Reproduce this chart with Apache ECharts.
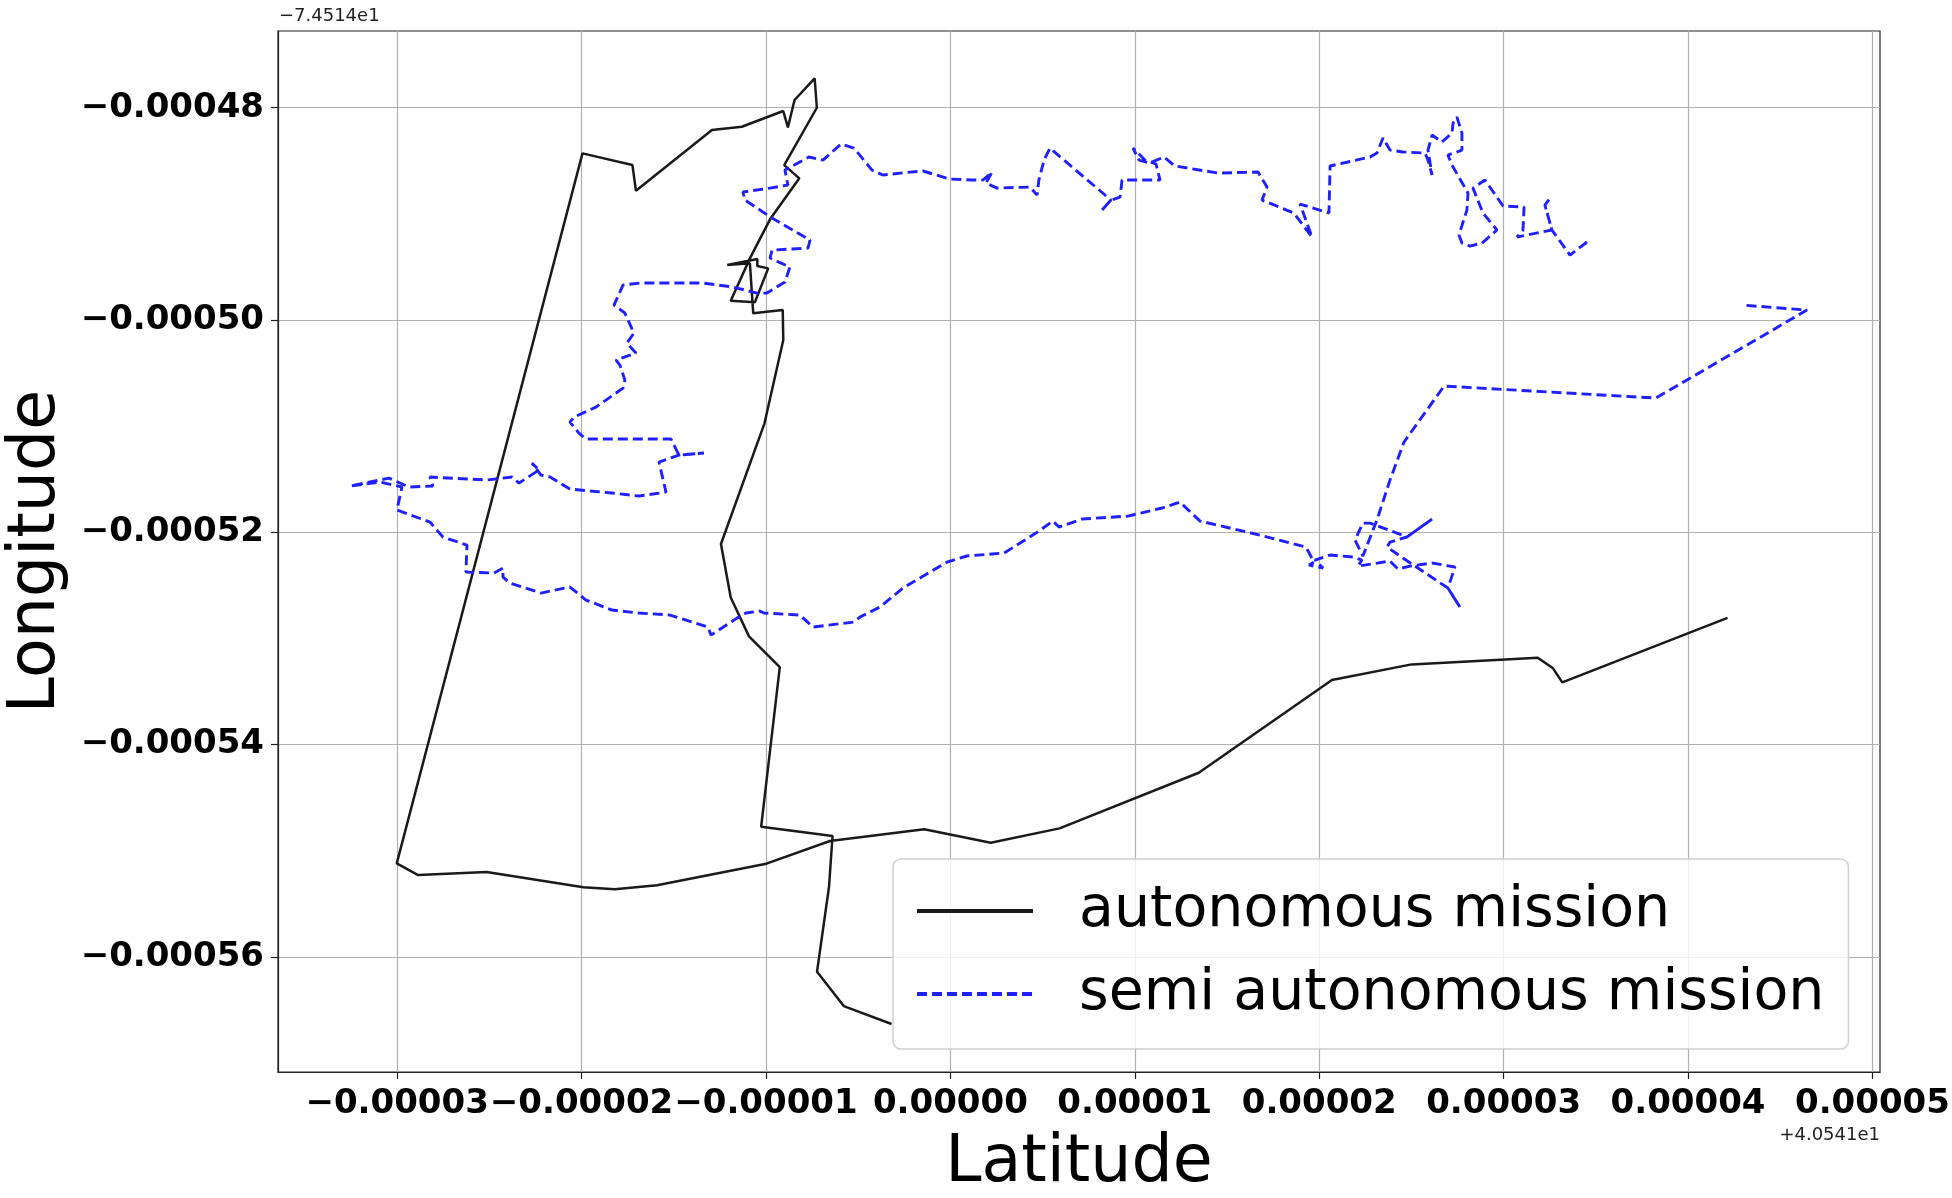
<!DOCTYPE html>
<html>
<head>
<meta charset="utf-8">
<script src="https://cdn.jsdelivr.net/npm/echarts@6/dist/echarts.min.js"></script>
<style>
html,body{margin:0;padding:0;background:#fff;}
#chart{width:1952px;height:1198px;}
</style>
</head>
<body>
<div id="chart"></div>
<script>
// Values are offsets in units of 1e-5 degree (latitude offset from 40.541, longitude offset from -74.514)
const autoLat = [4.214,3.318,3.268,3.185,2.501,2.069,1.347,0.592,0.219,-0.142,-0.653,-1.005,-1.591,-1.820,-1.990,-2.515,-2.886,-3.002,
  -1.995,-1.724,-1.705,-1.293,-1.131,-0.906,-0.881,-0.845,-0.736,-0.724,-0.901,-0.819,-0.978,-1.087,-1.191,-1.060,-0.988,-1.047,-1.047,
  -1.210,-1.087,-1.069,-0.909,-0.906,-1.008,-1.244,-1.191,-1.092,-0.925,-1.026,-0.639,-0.658,-0.723,-0.578,-0.319];
const autoLon = [-52.805,-53.413,-53.281,-53.181,-53.244,-53.391,-54.265,-54.789,-54.924,-54.798,-54.908,-55.125,-55.325,-55.363,-55.344,-55.200,-55.229,-55.118,
  -48.430,-48.540,-48.782,-48.210,-48.179,-48.031,-48.185,-47.927,-47.723,-48.000,-48.540,-48.665,-49.051,-49.419,-49.818,-49.833,-49.513,-49.491,-49.425,
  -49.482,-49.466,-49.937,-49.906,-50.188,-50.973,-52.110,-52.614,-52.980,-53.269,-54.773,-54.861,-55.339,-56.139,-56.463,-56.632];

const semiLat = [3.452,3.360,3.262,3.224,3.252,3.224,3.262,3.127,3.073,3.105,3.111,2.997,2.899,2.834,2.888,2.964,2.883,2.818,2.774,2.758,
  2.780,2.801,2.807,2.720,2.698,2.774,2.774,2.747,2.726,2.720,2.666,2.612,2.590,2.612,2.590,2.574,2.454,2.384,2.346,2.313,
  2.276,2.059,2.053,1.896,1.961,1.863,1.690,1.717,1.668,1.451,1.218,1.158,1.082,1.023,0.990,1.055,1.115,1.137,0.931,0.920,
  0.871,0.822,0.871,0.540,0.508,0.480,0.470,0.432,0.253,0.193,0.226,0.177,0.117,-0.002,-0.149,-0.219,-0.366,-0.425,-0.523,-0.593,
  -0.691,-0.767,-0.897,-0.881,-0.978,-1.125,-1.114,-0.967,-0.761,-0.772,-0.967,-0.978,-0.870,-0.897,-0.995,-1.049,-1.179,-1.342,-1.678,-1.775,
  -1.824,-1.765,-1.716,-1.754,-1.705,-1.813,-1.792,-1.765,-1.775,-1.922,-2.041,-2.063,-2.014,-1.976,-1.515,-1.472,-1.336,-1.472,-1.580,-1.542,
  -1.689,-1.835,-2.063,-2.171,-2.220,-2.269,-2.231,-2.339,-2.377,-2.513,-2.822,-2.806,-2.936,-3.044,-3.093,-3.256,-3.093,-2.974,-3.001,-2.822,
  -2.752,-2.621,-2.627,-2.475,-2.426,-2.426,-2.388,-2.220,-2.063,-1.976,-1.835,-1.689,-1.521,-1.315,-1.298,-1.157,-1.108,-1.033,-1.011,-0.816,
  -0.745,-0.523,-0.490,-0.382,-0.257,-0.018,0.090,0.291,0.464,0.556,0.589,0.714,0.963,1.148,1.245,1.354,1.679,1.928,1.972,1.945,
  2.021,1.977,2.059,2.183,2.232,2.210,2.384,2.427,2.492,2.612,2.736,2.698,2.763,2.698,2.454,2.368,2.384,2.476,2.612,2.476,
  2.422,2.276,2.237,2.194,2.237,2.313,2.384,2.460,2.677,3.826,4.645,4.293];
const semiLon = [-49.265,-49.388,-49.152,-48.917,-48.851,-48.917,-49.152,-49.199,-49.218,-49.152,-48.936,-48.926,-48.681,-48.757,-48.992,-49.152,-49.275,-49.303,-49.275,-49.199,
  -49.077,-48.964,-48.804,-48.540,-48.446,-48.399,-48.238,-48.088,-48.144,-48.238,-48.323,-48.257,-48.399,-48.634,-48.493,-48.427,-48.417,-48.399,-48.285,-48.427,
  -48.464,-48.549,-48.992,-48.907,-49.218,-48.992,-48.870,-48.747,-48.606,-48.615,-48.549,-48.464,-48.521,-48.493,-48.380,-48.493,-48.530,-48.681,-48.681,-48.841,
  -48.870,-48.964,-48.870,-48.380,-48.493,-48.681,-48.822,-48.747,-48.757,-48.709,-48.606,-48.681,-48.681,-48.672,-48.596,-48.606,-48.634,-48.587,-48.380,-48.342,
  -48.493,-48.464,-48.587,-48.728,-48.757,-48.794,-48.870,-49.039,-49.246,-49.322,-49.341,-49.416,-49.501,-49.642,-49.746,-49.746,-49.689,-49.651,-49.651,-49.670,
  -49.859,-49.934,-50.123,-50.217,-50.311,-50.377,-50.424,-50.565,-50.641,-50.820,-50.914,-50.961,-51.065,-51.121,-51.121,-51.272,-51.253,-51.272,-51.338,-51.621,
  -51.658,-51.630,-51.592,-51.479,-51.460,-51.347,-51.413,-51.536,-51.479,-51.507,-51.479,-51.564,-51.573,-51.489,-51.507,-51.564,-51.526,-51.573,-51.790,-51.903,
  -52.044,-52.120,-52.374,-52.384,-52.337,-52.421,-52.478,-52.572,-52.515,-52.638,-52.732,-52.760,-52.779,-52.892,-52.968,-52.808,-52.760,-52.742,-52.760,-52.779,
  -52.892,-52.845,-52.798,-52.704,-52.525,-52.280,-52.223,-52.195,-52.007,-51.894,-51.950,-51.875,-51.847,-51.771,-51.715,-51.894,-52.026,-52.139,-52.280,-52.308,
  -52.337,-52.261,-52.214,-52.233,-52.261,-52.318,-52.271,-52.346,-52.318,-52.289,-52.327,-52.525,-52.704,-52.525,-52.242,-52.139,-52.092,-52.044,-51.875,-52.044,
  -52.007,-51.913,-51.913,-52.073,-52.223,-51.884,-51.507,-51.149,-50.622,-50.735,-49.906,-49.859];

const xTicks = [-3,-2,-1,0,1,2,3,4,5];
const yTicks = [-48,-50,-52,-54,-56];
const seriesNames = ['autonomous mission','semi autonomous mission'];
const xOffsetText = '+4.0541e1';
const yOffsetText = '\u22127.4514e1';
const xAxisTitle = 'Latitude';
const yAxisTitle = 'Longitude';

function fmt(v){
  const s = (Math.abs(v)*1e-5).toFixed(5);
  return (v < -1e-9 ? '\u2212' : '') + s;
}
function pairs(a,b){ return a.map((v,i)=>[v,b[i]]); }

const FONT = 'DejaVu Sans';
const chart = echarts.init(document.getElementById('chart'), null, {renderer:'canvas'});
chart.setOption({
  animation:false,
  backgroundColor:'#ffffff',
  grid:{left:278, top:31, width:1602, height:1041, containLabel:false, outerBoundsMode:'none',
        show:true, borderColor:'#222', borderWidth:1.2, backgroundColor:'transparent'},
  xAxis:{
    type:'value', min:-3.646, max:5.041,
    name:xAxisTitle, nameLocation:'middle', nameGap:60,
    nameTextStyle:{fontFamily:FONT, fontSize:65, color:'#000'},
    axisLine:{show:true, onZero:false, lineStyle:{color:'#222', width:1.2}},
    axisTick:{show:true, length:7, customValues:xTicks, lineStyle:{color:'#222', width:1.2}},
    axisLabel:{customValues:xTicks, formatter:fmt, fontFamily:FONT, fontWeight:'bold', fontSize:34, color:'#000', margin:15},
    splitLine:{show:true, lineStyle:{color:'#b0b0b0', width:1.2}}
  },
  yAxis:{
    type:'value', min:-57.084, max:-47.277,
    name:yAxisTitle, nameLocation:'middle', nameGap:193,
    nameTextStyle:{fontFamily:FONT, fontSize:65, color:'#000'},
    axisLine:{show:true, onZero:false, lineStyle:{color:'#222', width:1.2}},
    axisTick:{show:true, length:7, customValues:yTicks, lineStyle:{color:'#222', width:1.2}},
    axisLabel:{customValues:yTicks, formatter:fmt, fontFamily:FONT, fontWeight:'bold', fontSize:34, color:'#000', margin:14},
    splitLine:{show:true, lineStyle:{color:'#b0b0b0', width:1.2}}
  },
  legend:{
    orient:'vertical', left:893, top:859,
    data:seriesNames,
    itemWidth:116, itemHeight:20, itemGap:17,
    padding:[19,24,22,22],
    backgroundColor:'rgba(255,255,255,0.8)',
    borderColor:'#d0d0d0', borderWidth:1.5, borderRadius:8,
    lineStyle:{width:4},
    itemStyle:{opacity:0},
    textStyle:{fontFamily:FONT, fontSize:57, color:'#000', lineHeight:66, padding:[0,0,0,41]}
  },
  graphic:[
    {type:'text', left:279, top:7, style:{text:yOffsetText, font:'18px "DejaVu Sans"', fill:'#222'}},
    {type:'text', right:72, top:1126, style:{text:xOffsetText, font:'18px "DejaVu Sans"', fill:'#222'}}
  ],
  series:[
    {name:seriesNames[0], type:'line', data:pairs(autoLat, autoLon), symbol:'none', showSymbol:false,
     lineStyle:{color:'#1a1a1a', width:2.5, type:'solid'}, itemStyle:{color:'#1a1a1a'}, z:2},
    {name:seriesNames[1], type:'line', data:pairs(semiLat, semiLon), symbol:'none', showSymbol:false,
     lineStyle:{color:'#2020ff', width:2.9, type:[10,5]}, itemStyle:{color:'#2020ff'}, z:3}
  ]
});
</script>
</body>
</html>
